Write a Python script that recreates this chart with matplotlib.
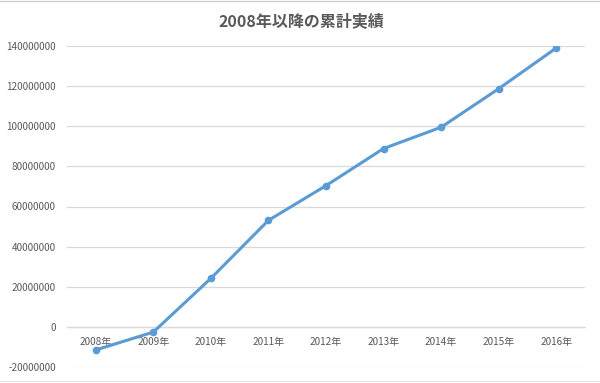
import matplotlib
matplotlib.use("Agg")
import matplotlib.pyplot as plt
from matplotlib.lines import Line2D

# cumulative results per year
years = ["2008年", "2009年", "2010年", "2011年", "2012年",
         "2013年", "2014年", "2015年", "2016年"]
totals = [-11500000, -2600000, 24200000, 53100000, 70400000,
          88900000, 99500000, 118700000, 139000000]
y_ticks = [-20000000, 0, 20000000, 40000000, 60000000,
           80000000, 100000000, 120000000, 140000000]

plt.rcParams['font.family'] = ['Noto Sans CJK JP', 'DejaVu Sans']

text_gray = '#595959'
grid_gray = '#D9D9D9'

fig = plt.figure(figsize=(6, 3.83), dpi=100)
ax = fig.add_axes([67 / 600, 1 - 367 / 383, 518 / 600, 321 / 383])

x = list(range(len(years)))
ax.plot(x, totals, color='#5B9BD5', linewidth=2.2, marker='o',
        markersize=4.5, zorder=3)

ax.set_xlim(-0.5, len(years) - 0.5)
ax.set_ylim(y_ticks[0], y_ticks[-1])
ax.set_yticks(y_ticks)
ax.set_yticklabels([str(v) for v in y_ticks])
ax.set_xticks(x)
ax.set_xticklabels(years)

# horizontal gridlines only, like the Excel default
ax.grid(axis='y', color=grid_gray, linewidth=0.9)
ax.set_axisbelow(True)
for side in ['top', 'right', 'left']:
    ax.spines[side].set_visible(False)
# category axis crosses at zero
ax.spines['bottom'].set_position(('data', 0))
ax.spines['bottom'].set_color(grid_gray)
ax.spines['bottom'].set_linewidth(0.9)

ax.tick_params(axis='y', length=0, pad=8, labelsize=7.2, labelcolor=text_gray)
ax.tick_params(axis='x', length=0, pad=7, labelsize=7.2, labelcolor=text_gray)

fig.text(0.502, 1 - 21 / 383, '2008年以降の累計実績', ha='center', va='center',
         fontsize=11.5, fontweight='bold', color=text_gray)

# border lines of the cropped screenshot
fig.add_artist(Line2D([0, 1], [1 - 1 / 383, 1 - 1 / 383], color='#D0D0D0',
                      linewidth=1))
fig.add_artist(Line2D([0, 1], [2 / 383, 2 / 383], color='#E0E0E0',
                      linewidth=0.8))

fig.savefig('out.png', dpi=100)
